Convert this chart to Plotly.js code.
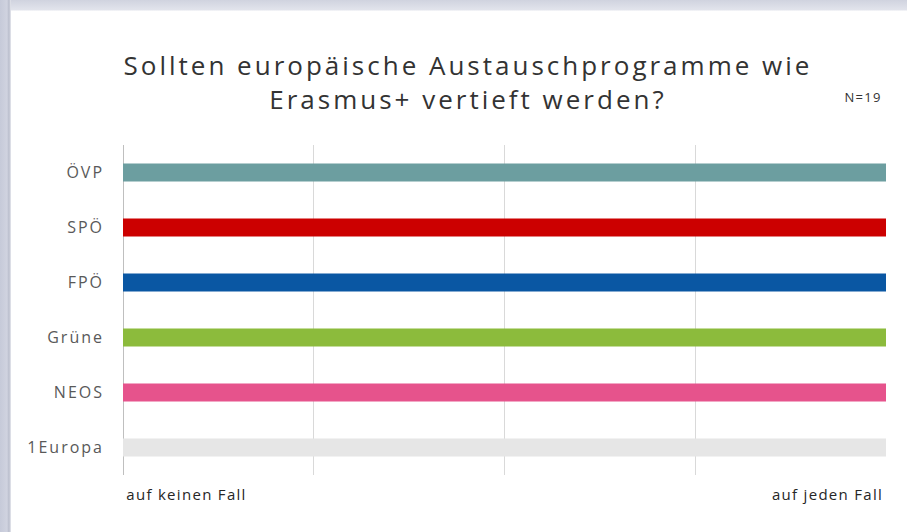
<!DOCTYPE html>
<html>
<head>
<meta charset="utf-8">
<script src="https://cdn.plot.ly/plotly-3.0.1.min.js"></script>
<style>
  html, body { margin: 0; padding: 0; }
  body {
    width: 907px; height: 532px; overflow: hidden;
    background: linear-gradient(180deg, #d0d3df 0px, #e2e4ec 10px, #ffffff 11px);
    position: relative;
  }
  #frameLeft {
    position: absolute; left: 0; top: 0; width: 11px; height: 532px;
    background: linear-gradient(90deg, #c6cad9 0px, #d0d3e0 7px, #b9bdcc 9px, #e8e9ef 11px);
  }
  #chart { position: absolute; left: 11px; top: 11px; width: 896px; height: 521px; }
  #chart .gtitle { letter-spacing: 3px; }
  #chart .ytick text { letter-spacing: 2px; }
  #chart .annotation-text { letter-spacing: 1.3px; }
</style>
</head>
<body>
<div id="frameLeft"></div>
<div id="chart"></div>
<script>
const parties = ["ÖVP", "SPÖ", "FPÖ", "Grüne", "NEOS", "1Europa"];
const answers = [4, 4, 4, 4, 4, 4];
const partyColors = ["#6c9ea0", "#cc0000", "#0a57a3", "#8cbb3c", "#e6538c", "#e6e6e6"];
const scaleTicks = [0, 1, 2, 3, 4];
const scaleLabels = ["auf keinen Fall", "auf jeden Fall"];
const titleText = "Sollten europäische Austauschprogramme wie<br>Erasmus+ vertieft werden?";
const sampleNote = "N=19";

const trace = {
  type: "bar",
  orientation: "h",
  y: parties,
  x: answers,
  marker: { color: partyColors, line: { width: 0 } },
  width: 0.33,
  hoverinfo: "skip"
};

const layout = {
  width: 896, height: 521,
  margin: { l: 112, r: 21, t: 134, b: 57 },
  paper_bgcolor: "#ffffff",
  plot_bgcolor: "#ffffff",
  showlegend: false,
  font: { family: "Open Sans, sans-serif", color: "#595959" },
  title: {
    text: titleText,
    font: { family: "Open Sans, sans-serif", size: 26, color: "#333333" },
    xref: "container", x: 0.510, xanchor: "center",
    yref: "container", y: 0.877, yanchor: "middle"
  },
  xaxis: {
    range: [0, 4],
    tickvals: scaleTicks,
    showticklabels: false,
    showgrid: true,
    gridcolor: "#d9d9d9",
    gridwidth: 1,
    zeroline: true,
    zerolinecolor: "#bfbfbf",
    zerolinewidth: 1,
    showline: false,
    fixedrange: true
  },
  yaxis: {
    type: "category",
    autorange: "reversed",
    showgrid: false,
    zeroline: false,
    showline: false,
    ticks: "",
    ticklabelstandoff: 18,
    tickfont: { family: "Open Sans, sans-serif", size: 16, color: "#595959" },
    fixedrange: true
  },
  annotations: [
    {
      text: scaleLabels[0], x: scaleTicks[0], xref: "x", xanchor: "left",
      xshift: 11, y: -0.057, yref: "paper", yanchor: "middle", showarrow: false,
      font: { family: "Open Sans, sans-serif", size: 15, color: "#262626" }
    },
    {
      text: scaleLabels[1], x: scaleTicks[scaleTicks.length - 1], xref: "x", xanchor: "right",
      xshift: -10, y: -0.057, yref: "paper", yanchor: "middle", showarrow: false,
      font: { family: "Open Sans, sans-serif", size: 15, color: "#262626" }
    },
    {
      text: sampleNote, xref: "paper", x: 1.0, xanchor: "right", xshift: -5,
      yref: "paper", y: 1.145, yanchor: "middle", showarrow: false,
      font: { family: "Open Sans, sans-serif", size: 13, color: "#333333" }
    }
  ]
};

Plotly.newPlot("chart", [trace], layout, { displayModeBar: false, staticPlot: true });
</script>
</body>
</html>
